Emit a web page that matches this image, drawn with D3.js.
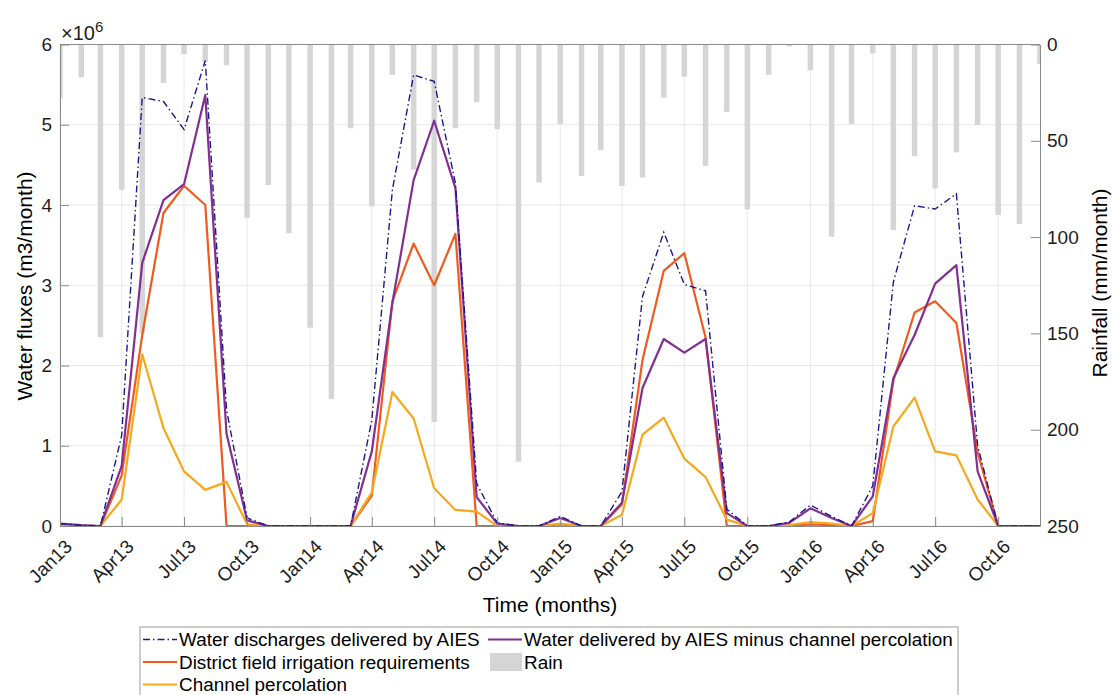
<!DOCTYPE html>
<html><head><meta charset="utf-8">
<script src="https://cdn.jsdelivr.net/npm/d3@7"></script>
<style>
body{margin:0;background:#fff;}
svg{display:block;font-family:"Liberation Sans",Arial,Helvetica,sans-serif;}
</style>
</head><body>
<svg id="chart" width="1112" height="695"></svg>
<script>
// ---------------- data ----------------
const months = [
 "2013-01","2013-02","2013-03","2013-04","2013-05","2013-06","2013-07","2013-08","2013-09","2013-10","2013-11","2013-12",
 "2014-01","2014-02","2014-03","2014-04","2014-05","2014-06","2014-07","2014-08","2014-09","2014-10","2014-11","2014-12",
 "2015-01","2015-02","2015-03","2015-04","2015-05","2015-06","2015-07","2015-08","2015-09","2015-10","2015-11","2015-12",
 "2016-01","2016-02","2016-03","2016-04","2016-05","2016-06","2016-07","2016-08","2016-09","2016-10","2016-11","2016-12"];

// Water discharges delivered by AIES (x10^6 m3/month)
const discharges = [
 0.03,0.01,0,1.13,5.34,5.29,4.94,5.80,1.45,0.10,0,0,
 0,0,0,1.32,4.19,5.62,5.54,4.27,0.53,0.04,0,0,
 0.12,0,0,0.43,2.86,3.66,3.01,2.93,0.21,0,0,0.05,
 0.26,0.12,0,0.50,3.04,3.99,3.95,4.14,1.00,0,0,0];

// Water delivered by AIES minus channel percolation
const deliveredNet = [
 0.03,0.01,0,0.75,3.28,4.06,4.26,5.37,1.15,0.07,0,0,
 0,0,0,0.93,2.78,4.31,5.05,4.21,0.36,0.03,0,0,
 0.10,0,0,0.29,1.72,2.33,2.16,2.33,0.16,0,0,0.04,
 0.22,0.10,0,0.37,1.84,2.38,3.02,3.25,0.68,0,0,0];

// District field irrigation requirements
const irrigationReq = [
 0.02,0,0,0.63,2.38,3.90,4.24,4.00,0,0,0,0,
 0,0,0,0.38,2.80,3.52,3.00,3.64,0,0,0,0,
 0.02,0,0,0.27,2.07,3.18,3.40,2.35,0,0,0,0,
 0.02,0.01,0,0.06,1.81,2.66,2.80,2.53,0.92,0,0,0];

// Channel percolation
const percolation = [
 0,0,0,0.33,2.14,1.22,0.68,0.45,0.55,0.02,0,0,
 0,0,0,0.42,1.67,1.34,0.47,0.20,0.18,0,0,0,
 0.03,0,0,0.14,1.14,1.35,0.84,0.61,0.08,0,0,0.01,
 0.05,0.03,0,0.16,1.24,1.60,0.93,0.88,0.33,0,0,0];

// Rain (mm/month)
const rainfall = [
 28,17,152,75.5,150,20,5,9,10.8,90,73,98,
 147,184,43.5,84,15.8,65,196,43.5,30,44,216.6,71.6,
 41.3,68.3,54.8,73.5,69,27.6,16.7,63,35,85.6,15.8,1,
 13.4,99.8,41.3,4.6,96.3,58,74.7,56,41.8,88.5,93.2,10];

const fluxTicks = [0,1,2,3,4,5,6];
const rainTicks = [0,50,100,150,200,250];
const timeTickLabels = ["Jan13","Apr13","Jul13","Oct13","Jan14","Apr14","Jul14","Oct14",
                        "Jan15","Apr15","Jul15","Oct15","Jan16","Apr16","Jul16","Oct16"];

const seriesNames = ["Water discharges delivered by AIES","Water delivered by AIES minus channel percolation",
                     "District field irrigation requirements","Rain","Channel percolation"];

// ---------------- layout ----------------
const L = 60, R = 1040, T = 44.5, B = 526;
const svg = d3.select("#chart");
const parse = d3.timeParse("%Y-%m");
const fmt = d3.timeFormat("%b%y");
const dates = months.map(parse);
const tickDates = dates.filter(d => timeTickLabels.includes(fmt(d)));

const x = d3.scaleTime().domain([dates[0], dates[dates.length - 1]]).range([L, R]);
const yL = d3.scaleLinear().domain([0, 6]).range([B, T]);
const yR = d3.scaleLinear().domain([0, 250]).range([T, B]);

const colors = {d: "#1a1a8c", p: "#812f91", r: "#ef5a1e", c: "#f6a81c", rain: "#d5d5d5"};
const axisColor = "#8a8a8a", textColor = "#1e1e1e";

svg.append("defs").append("clipPath").attr("id", "plotclip")
  .append("rect").attr("x", L).attr("y", T).attr("width", R - L).attr("height", B - T);

// grid
const grid = svg.append("g");
grid.selectAll("line.v").data(tickDates).join("line")
  .attr("x1", d => x(d)).attr("x2", d => x(d)).attr("y1", T).attr("y2", B)
  .attr("stroke", "#e8e8e8").attr("stroke-width", 1);
grid.selectAll("line.h").data(fluxTicks).join("line")
  .attr("x1", L).attr("x2", R).attr("y1", d => yL(d)).attr("y2", d => yL(d))
  .attr("stroke", "#e8e8e8").attr("stroke-width", 1);

// rain bars (hanging from top)
const plot = svg.append("g").attr("clip-path", "url(#plotclip)");
const barW = 5.5;
plot.selectAll("rect.rain").data(rainfall).join("rect")
  .attr("x", (v, i) => x(dates[i]) - barW / 2)
  .attr("y", yR(0))
  .attr("width", barW)
  .attr("height", v => yR(v) - yR(0))
  .attr("fill", colors.rain);

// lines
const line = d3.line().x((v, i) => x(dates[i])).y(v => yL(v));
plot.append("path").datum(irrigationReq).attr("d", line)
  .attr("fill", "none").attr("stroke", colors.r).attr("stroke-width", 2.2).attr("stroke-linejoin", "round");
plot.append("path").datum(percolation).attr("d", line)
  .attr("fill", "none").attr("stroke", colors.c).attr("stroke-width", 2.2).attr("stroke-linejoin", "round");
plot.append("path").datum(deliveredNet).attr("d", line)
  .attr("fill", "none").attr("stroke", colors.p).attr("stroke-width", 2.2).attr("stroke-linejoin", "round");
plot.append("path").datum(discharges).attr("d", line)
  .attr("fill", "none").attr("stroke", colors.d).attr("stroke-width", 1.4)
  .attr("stroke-dasharray", "7,3,1.5,3");

// axes
function styleAxis(g) {
  g.selectAll(".domain").attr("stroke", axisColor);
  g.selectAll(".tick line").attr("stroke", axisColor);
  g.selectAll(".tick text").attr("fill", textColor).style("font-size", "19px")
    .style("font-family", '"Liberation Sans",Arial,Helvetica,sans-serif');
}
const gL = svg.append("g").attr("transform", `translate(${L},0)`)
  .call(d3.axisLeft(yL).tickValues(fluxTicks).tickFormat(d3.format("d"))
    .tickSizeInner(-9).tickSizeOuter(0).tickPadding(8));
styleAxis(gL);
const gR = svg.append("g").attr("transform", `translate(${R},0)`)
  .call(d3.axisRight(yR).tickValues(rainTicks).tickFormat(d3.format("d"))
    .tickSizeInner(-9).tickSizeOuter(0).tickPadding(7));
styleAxis(gR);
const gB = svg.append("g").attr("transform", `translate(0,${B})`)
  .call(d3.axisBottom(x).tickValues(tickDates).tickFormat(fmt).tickSizeInner(-9).tickSizeOuter(0));
styleAxis(gB);
gB.selectAll(".tick text")
  .attr("x", 0).attr("y", 0).attr("dy", "0.35em")
  .attr("text-anchor", "end")
  .attr("transform", "translate(8,17) rotate(-45)");

// top border
svg.append("line").attr("x1", L).attr("x2", R).attr("y1", T).attr("y2", T)
  .attr("stroke", axisColor).attr("stroke-width", 1);

// exponent label
const ex = svg.append("text").attr("x", L + 1).attr("y", 40).attr("fill", textColor).style("font-size", "20px");
ex.append("tspan").text("\u00d710");
ex.append("tspan").attr("dy", -8).style("font-size", "15px").text("6");

// axis titles
svg.append("text").attr("transform", `translate(32,286) rotate(-90)`)
  .attr("text-anchor", "middle").attr("fill", "#000").style("font-size", "21px")
  .text("Water fluxes (m3/month)");
svg.append("text").attr("transform", `translate(1107,283) rotate(-90)`)
  .attr("text-anchor", "middle").attr("fill", "#000").style("font-size", "21px")
  .text("Rainfall (mm/month)");
svg.append("text").attr("x", 550).attr("y", 612)
  .attr("text-anchor", "middle").attr("fill", "#000").style("font-size", "21px")
  .text("Time (months)");

// legend
const lg = svg.append("g");
lg.append("rect").attr("x", 140).attr("y", 627).attr("width", 818).attr("height", 90)
  .attr("fill", "#fff").attr("stroke", "#9a9a9a").attr("stroke-width", 1);
const legendItems = [
  {name: seriesNames[0], col: 0, row: 0, type: "dash", color: colors.d},
  {name: seriesNames[1], col: 1, row: 0, type: "line", color: colors.p},
  {name: seriesNames[2], col: 0, row: 1, type: "line", color: colors.r},
  {name: seriesNames[3], col: 1, row: 1, type: "rect", color: colors.rain},
  {name: seriesNames[4], col: 0, row: 2, type: "line", color: colors.c}
];
const colX = [143, 488], rowY = [639.5, 662, 684.5];
legendItems.forEach(it => {
  const x0 = colX[it.col], yy = rowY[it.row];
  if (it.type === "rect") {
    lg.append("rect").attr("x", x0 + 2).attr("y", yy - 9).attr("width", 32).attr("height", 18).attr("fill", it.color);
  } else {
    lg.append("line").attr("x1", x0).attr("x2", x0 + 34).attr("y1", yy).attr("y2", yy)
      .attr("stroke", it.color).attr("stroke-width", it.type === "dash" ? 1.4 : 2.2)
      .attr("stroke-dasharray", it.type === "dash" ? "7,3,1.5,3" : null);
  }
  lg.append("text").attr("x", x0 + 36).attr("y", yy).attr("dy", "0.35em")
    .attr("fill", "#000").style("font-size", "18.9px").text(it.name);
});
</script>
</body></html>
